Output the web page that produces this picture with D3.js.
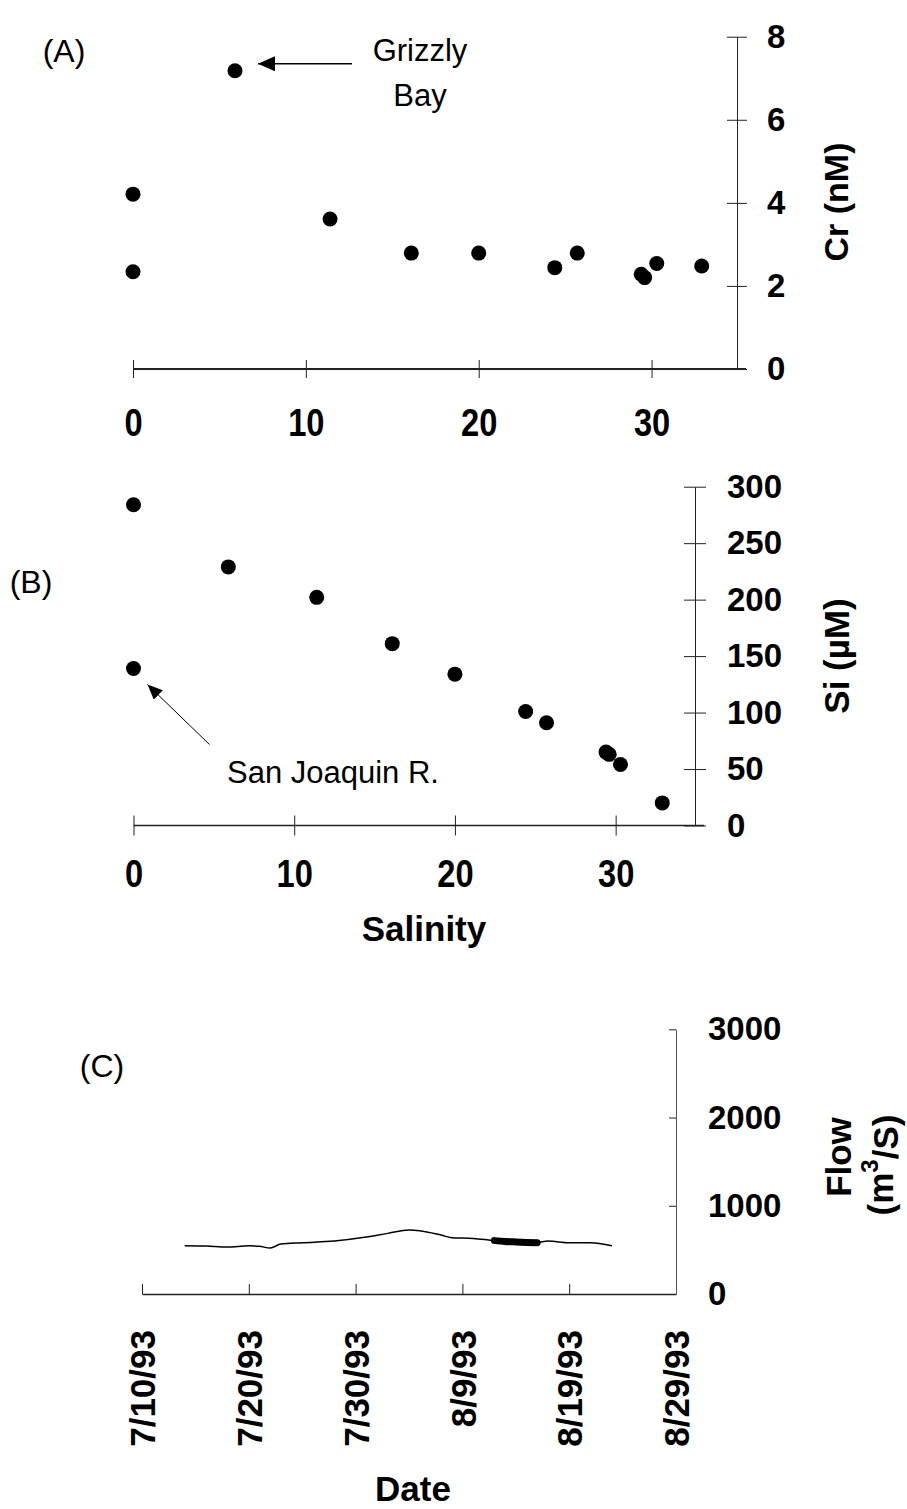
<!DOCTYPE html>
<html>
<head>
<meta charset="utf-8">
<script src="https://cdnjs.cloudflare.com/ajax/libs/d3/7.8.5/d3.min.js"></script>
<style>
  body { margin: 0; background: #fff; }
  svg { display: block; }
</style>
</head>
<body>
<svg id="chart"></svg>
<script>
// salinity of each station, shared by panels A and B
const salinity = [0, 0, 5.9, 11.4, 16.1, 20.0, 24.4, 25.7, 29.4, 29.6, 30.3, 32.9]
const chromium = [4.21, 2.34, 7.18, 3.61, 2.79, 2.79, 2.44, 2.79, 2.28, 2.20, 2.54, 2.48]
const silicate = [284, 139, 229, 202, 161, 134, 101, 91, 65, 63, 54, 20]

const salinityTicks = [0, 10, 20, 30]
const crTicks = [0, 2, 4, 6, 8]
const siTicks = [0, 50, 100, 150, 200, 250, 300]

// delta outflow (panel C)
const flowDates = ["7/14/93", "7/16/93", "7/18/93", "7/20/93", "7/21/93", "7/22/93", "7/23/93",
  "7/25/93", "7/28/93", "7/31/93", "8/2/93", "8/4/93", "8/5/93", "8/7/93", "8/8/93", "8/10/93",
  "8/12/93", "8/13/93", "8/14/93", "8/15/93", "8/16/93", "8/17/93", "8/19/93", "8/21/93", "8/23/93"]
const flowValues = [547, 543, 532, 547, 540, 521, 566,
  581, 600, 645, 687, 725, 718, 668, 638, 630,
  605, 596, 590, 585, 582, 600, 581, 581, 547]
const samplingPeriod = ["8/12/93", "8/16/93"]
const flowTicks = [0, 1000, 2000, 3000]
const dateTicks = ["7/10/93", "7/20/93", "7/30/93", "8/9/93", "8/19/93", "8/29/93"]

const full_width = 907
const full_height = 1509
const font = "'Liberation Sans', Arial, Helvetica, sans-serif"

const svg = d3.select("#chart")
  .attr("width", full_width)
  .attr("height", full_height)
  .attr("viewBox", `0 0 ${full_width} ${full_height}`)

const defs = svg.append("defs")
defs.append("marker").attr("id", "head-big")
  .attr("markerUnits", "userSpaceOnUse")
  .attr("markerWidth", 18).attr("markerHeight", 16)
  .attr("refX", 17).attr("refY", 7.5).attr("orient", "auto")
  .append("path").attr("d", "M0,0 L17,7.5 L0,15 Z").attr("fill", "#000")
defs.append("marker").attr("id", "head-small")
  .attr("markerUnits", "userSpaceOnUse")
  .attr("markerWidth", 16).attr("markerHeight", 14)
  .attr("refX", 15).attr("refY", 6.5).attr("orient", "auto")
  .append("path").attr("d", "M0,0 L15,6.5 L0,13 Z").attr("fill", "#000")

const parseDate = d3.timeParse("%m/%d/%y")

function styleAxis(g, size) {
  g.select(".domain").attr("stroke", "#222")
  g.selectAll(".tick line").attr("stroke", "#222")
  g.selectAll("text")
    .attr("fill", "#000")
    .attr("font-family", font)
    .attr("font-weight", "bold")
    .attr("font-size", size + "px")
}

function label(x, y, txt, size, weight, rotate) {
  const t = svg.append("text")
    .attr("font-family", font)
    .attr("font-size", size + "px")
    .attr("font-weight", weight)
    .attr("text-anchor", "middle")
    .attr("dominant-baseline", "central")
    .attr("fill", "#000")
  if (rotate) t.attr("transform", `translate(${x},${y}) rotate(-90)`)
  else t.attr("x", x).attr("y", y)
  t.text(txt)
  return t
}

// ---------- Panel A : Cr vs salinity ----------
const xA = d3.scaleLinear().domain([0, 35]).range([133, 738])
const yA = d3.scaleLinear().domain([0, 8]).range([369, 36.7])

svg.append("g")
  .attr("transform", `translate(0,${yA(0)})`)
  .call(d3.axisBottom(xA).tickValues(salinityTicks).tickSizeInner(9).tickSizeOuter(0).tickPadding(31).tickFormat(d3.format("d")))
  .call(g => styleAxis(g, 38))
  .call(g => g.selectAll(".tick text").attr("transform", "scale(0.86,1)"))
  .call(g => g.select(".domain").attr("stroke-width", 2).attr("d", `M${xA(0)},0H${xA(35) + 8}`))
  .call(g => g.selectAll(".tick line").attr("y1", -9))

svg.append("g")
  .attr("transform", `translate(${xA(35) - 1},0)`)
  .call(d3.axisRight(yA).tickValues(crTicks).tickSizeInner(10).tickSizeOuter(0).tickPadding(20))
  .call(g => styleAxis(g, 33))
  .call(g => g.selectAll(".tick line").attr("x1", -10))

svg.append("g").selectAll("circle")
  .data(salinity)
  .enter()
  .append("circle")
  .attr("cx", d => xA(d))
  .attr("cy", (d, i) => yA(chromium[i]))
  .attr("r", 7.5)
  .attr("fill", "#000")

label(64, 51, "(A)", 32, "normal")
label(420, 50, "Grizzly", 31, "normal")
label(420, 95, "Bay", 31, "normal")
label(836, 202, "Cr (nM)", 34, "bold", true)

// arrow to the Grizzly Bay point
svg.append("line")
  .attr("x1", xA(salinity[2]) + 117).attr("y1", yA(chromium[2]) - 7)
  .attr("x2", xA(salinity[2]) + 23).attr("y2", yA(chromium[2]) - 7)
  .attr("stroke", "#000").attr("stroke-width", 1.6)
  .attr("marker-end", "url(#head-big)")

// ---------- Panel B : Si vs salinity ----------
const xB = d3.scaleLinear().domain([0, 35]).range([133.5, 696])
const yB = d3.scaleLinear().domain([0, 300]).range([825.5, 486.7])

svg.append("g")
  .attr("transform", `translate(0,${yB(0)})`)
  .call(d3.axisBottom(xB).tickValues(salinityTicks).tickSizeInner(10).tickSizeOuter(0).tickPadding(25).tickFormat(d3.format("d")))
  .call(g => styleAxis(g, 38))
  .call(g => g.selectAll(".tick text").attr("transform", "scale(0.86,1)"))
  .call(g => g.select(".domain").attr("stroke-width", 1.5).attr("d", `M${xB(0)},0H${xB(35) + 8}`))
  .call(g => g.selectAll(".tick line").attr("y1", -10))

svg.append("g")
  .attr("transform", `translate(${xB(35) - 1},0)`)
  .call(d3.axisRight(yB).tickValues(siTicks).tickSizeInner(11).tickSizeOuter(0).tickPadding(21))
  .call(g => styleAxis(g, 33))
  .call(g => g.selectAll(".tick line").attr("x1", -11))

svg.append("g").selectAll("circle")
  .data(salinity)
  .enter()
  .append("circle")
  .attr("cx", d => xB(d))
  .attr("cy", (d, i) => yB(silicate[i]))
  .attr("r", 7.5)
  .attr("fill", "#000")

label(31, 582, "(B)", 32, "normal")
label(333, 772, "San Joaquin R.", 31, "normal")
label(424, 928, "Salinity", 35, "bold")
label(836, 656, "Si (\u00b5M)", 35, "bold", true)

// arrow to the San Joaquin River end member
svg.append("line")
  .attr("x1", xB(salinity[1]) + 76).attr("y1", yB(silicate[1]) + 76)
  .attr("x2", xB(salinity[1]) + 14).attr("y2", yB(silicate[1]) + 16)
  .attr("stroke", "#000").attr("stroke-width", 1)
  .attr("marker-end", "url(#head-small)")

// ---------- Panel C : flow vs date ----------
const xC = d3.scaleTime().domain([parseDate(dateTicks[0]), parseDate(dateTicks[dateTicks.length - 1])]).range([142, 676])
const yC = d3.scaleLinear().domain([0, 3000]).range([1294, 1029.3])

svg.append("g")
  .attr("transform", `translate(0,${yC(0)})`)
  .call(d3.axisBottom(xC).tickValues(dateTicks.map(parseDate)).tickSizeInner(-10).tickSizeOuter(0)
    .tickFormat(d3.timeFormat("%-m/%-d/%y")))
  .call(g => styleAxis(g, 35))
  .call(g => g.select(".domain").attr("stroke-width", 1.5))
  .call(g => g.selectAll(".tick text")
    .attr("transform", "rotate(-90)")
    .attr("x", -36).attr("y", 0).attr("dy", "0.36em")
    .attr("text-anchor", "end"))

svg.append("g")
  .attr("transform", `translate(${xC.range()[1]},0)`)
  .call(d3.axisRight(yC).tickValues(flowTicks).tickSizeInner(7).tickSizeOuter(0).tickPadding(25).tickFormat(d3.format("d")))
  .call(g => styleAxis(g, 33))
  .call(g => g.select(".domain").attr("stroke", "#555"))
  .call(g => g.selectAll(".tick line").attr("x1", -7).attr("x2", 0))

const flow = flowDates.map((d, i) => ({ date: parseDate(d), value: flowValues[i] }))
const flowLine = d3.line()
  .x(d => xC(d.date))
  .y(d => yC(d.value))
  .curve(d3.curveMonotoneX)

svg.append("path")
  .datum(flow)
  .attr("d", flowLine)
  .attr("fill", "none")
  .attr("stroke", "#000")
  .attr("stroke-width", 1.5)

const s0 = parseDate(samplingPeriod[0]), s1 = parseDate(samplingPeriod[1])
svg.append("path")
  .datum(flow.filter(d => d.date >= s0 && d.date <= s1))
  .attr("d", flowLine)
  .attr("fill", "none")
  .attr("stroke", "#000")
  .attr("stroke-width", 7)
  .attr("stroke-linecap", "round")

label(102, 1066, "(C)", 32, "normal")
label(413, 1488, "Date", 35, "bold")
label(838, 1157, "Flow", 35, "bold", true)

const units = svg.append("text")
  .attr("transform", `translate(880,1165) rotate(-90)`)
  .attr("font-family", font)
  .attr("font-size", "35px")
  .attr("font-weight", "bold")
  .attr("text-anchor", "middle")
  .attr("dominant-baseline", "central")
  .attr("fill", "#000")
units.append("tspan").text("(m")
units.append("tspan").attr("dy", "-0.45em").attr("font-size", "24px").text("3")
units.append("tspan").attr("dy", "0.45em").text("/S)")
</script>
</body>
</html>
